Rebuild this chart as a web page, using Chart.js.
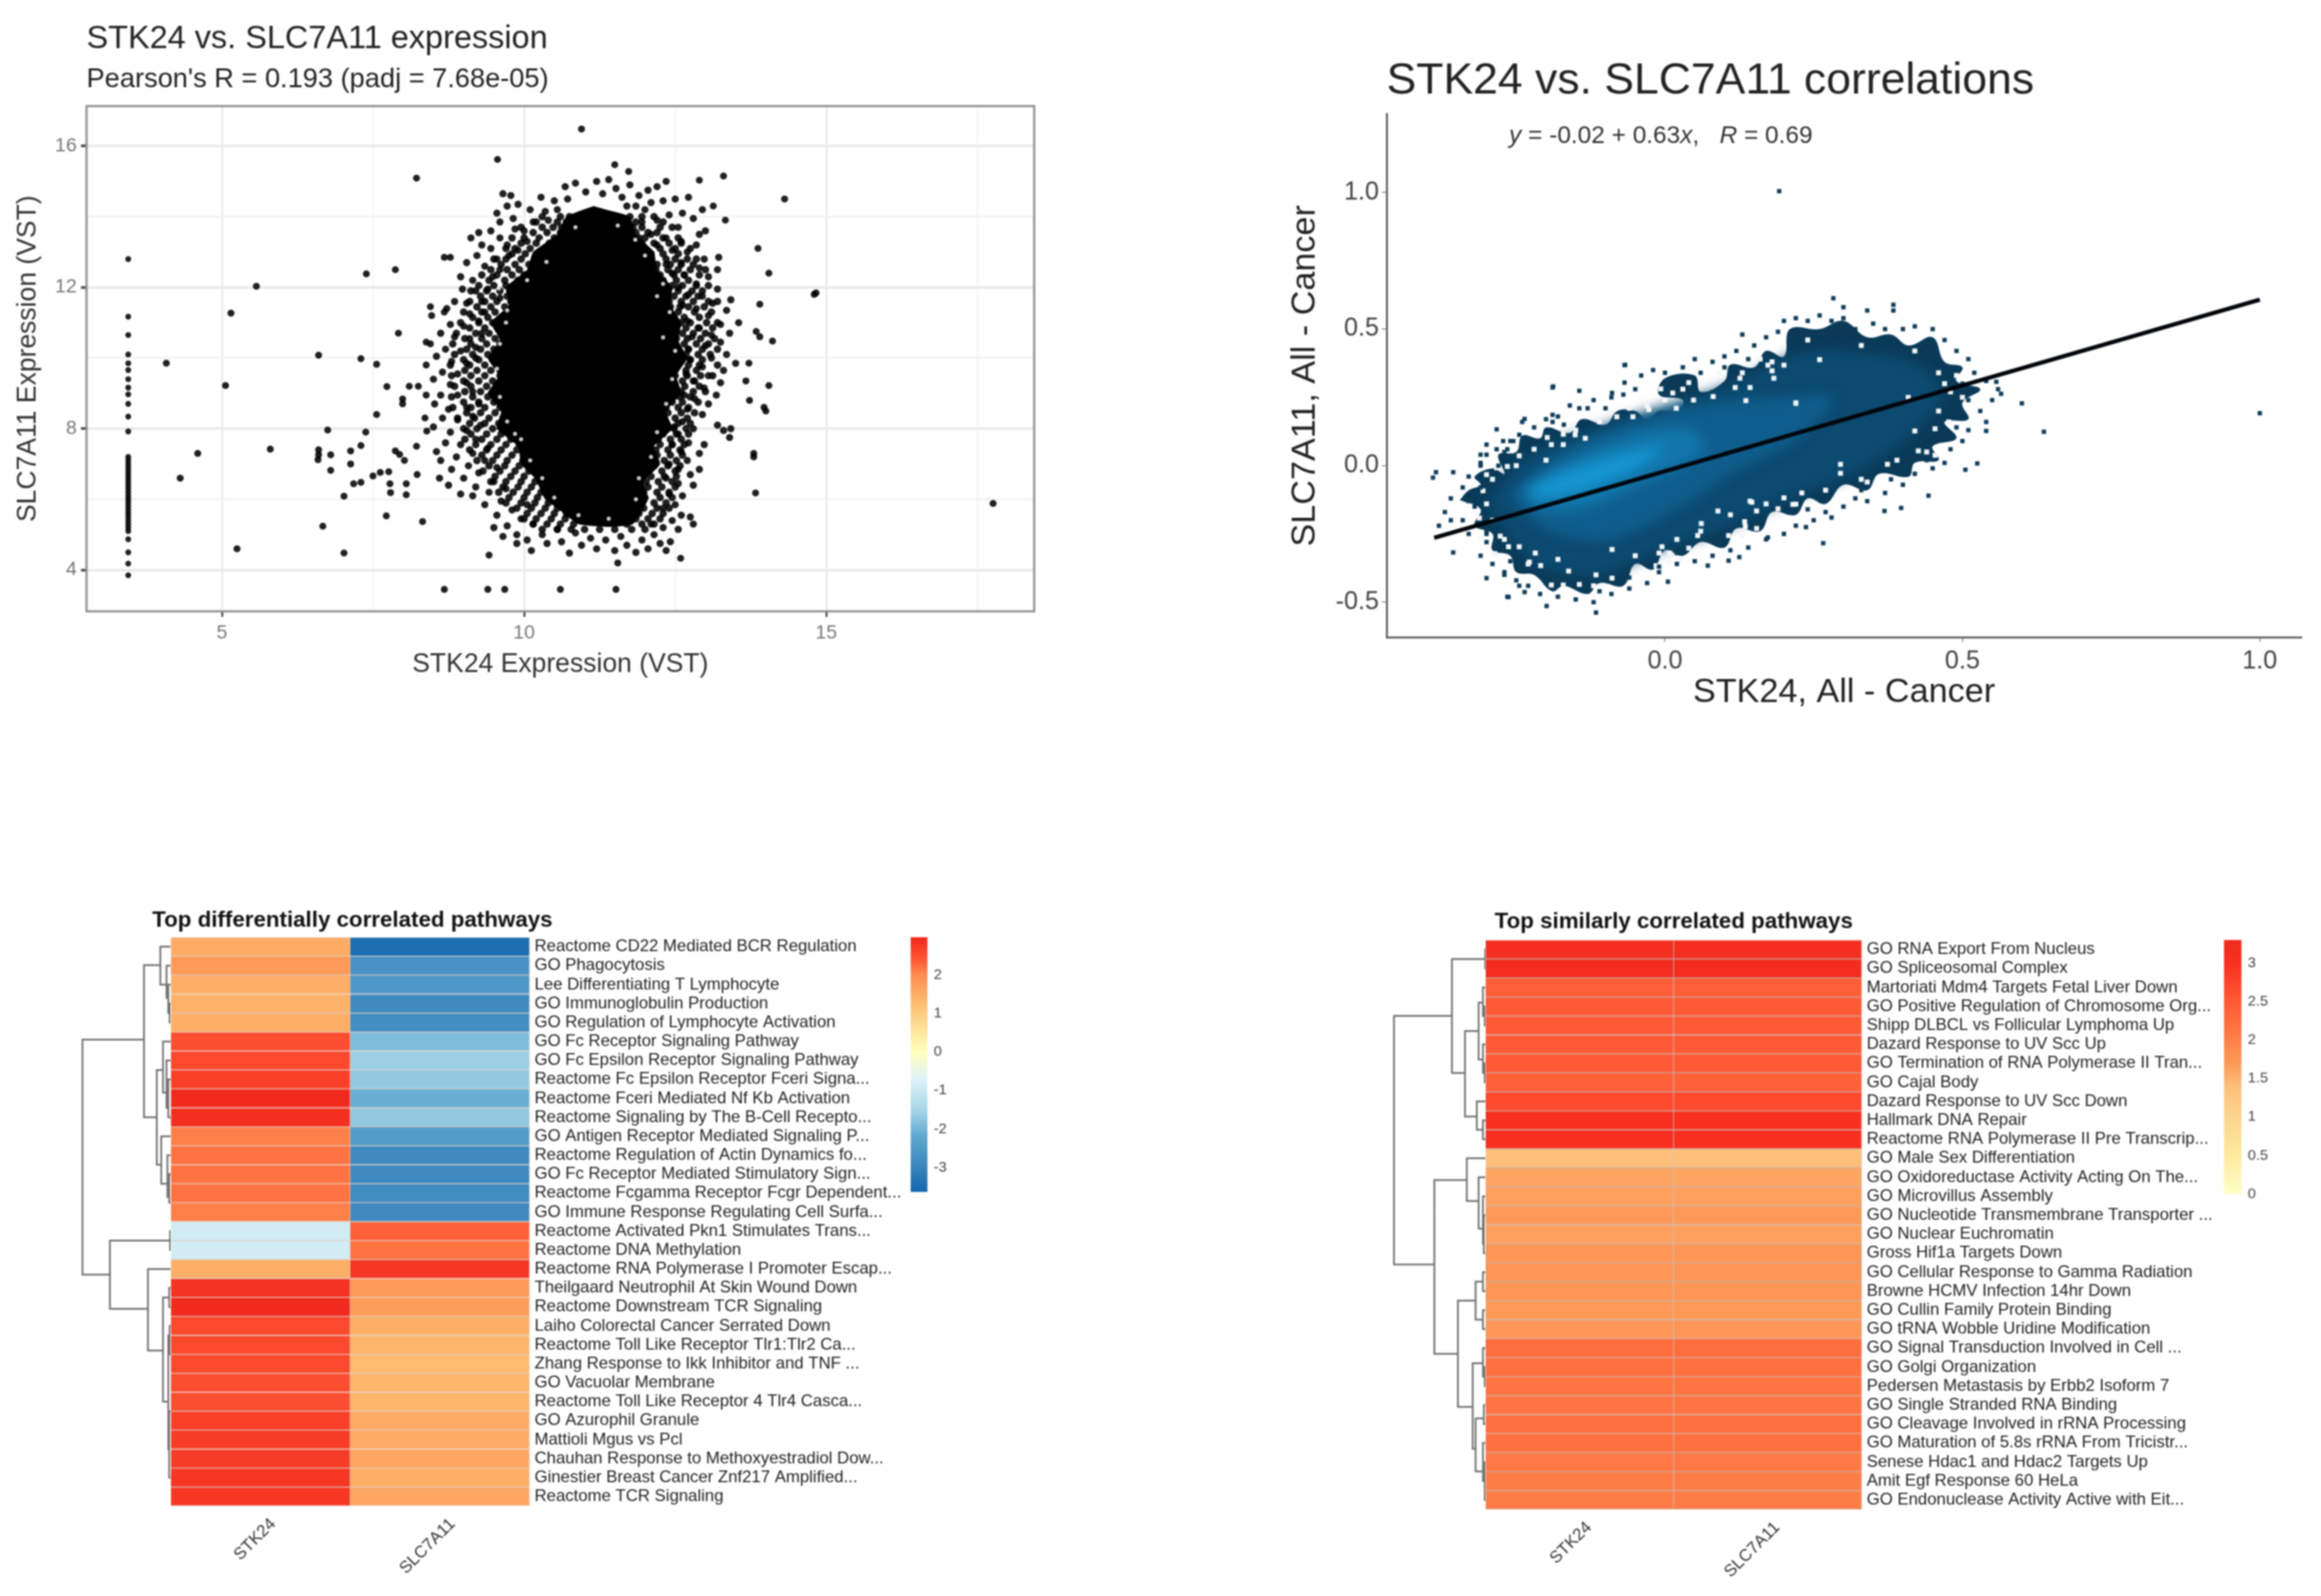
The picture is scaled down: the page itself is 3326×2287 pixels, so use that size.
<!DOCTYPE html>
<html>
<head>
<meta charset="utf-8">
<title>STK24 vs. SLC7A11</title>
<script src="https://cdn.jsdelivr.net/npm/chart.js@4"></script>
<style>
html,body{margin:0;padding:0;background:#fff;}
body{position:relative;width:3326px;height:2287px;overflow:hidden;}
canvas{position:absolute;filter:blur(0.9px);}
</style>
</head>
<body>
<canvas id="exprChart" style="left:0;top:20px" width="1500" height="955"></canvas>
<canvas id="corrChart" style="left:1800px;top:60px" width="1510" height="964"></canvas>
<canvas id="diffDendro" style="left:115px;top:1343px" width="130" height="815"></canvas>
<canvas id="diffHeat" style="left:218px;top:1300px" width="1082" height="975"></canvas>
<canvas id="diffScale" style="left:1305px;top:1343px" width="70" height="377"></canvas>
<canvas id="simDendro" style="left:1995px;top:1347px" width="134" height="816"></canvas>
<canvas id="simHeat" style="left:2129px;top:1302px" width="1051" height="978"></canvas>
<canvas id="simScale" style="left:3187px;top:1347px" width="70" height="376"></canvas>
<script>
/* ==========================================
   EXPRESSION SCATTER DATA
========================================== */

const exprStripX = 3.45;

const exprStripY = [12.8,11.17,10.65,10.1,9.85,9.66,9.4,9.16,8.97,8.7,8.34,7.92,7.2,7.1,7.0,6.9,6.8,6.7,6.6,6.5,6.4,6.3,6.2,6.1,6.0,5.9,5.8,5.7,5.6,5.5,5.4,5.3,5.2,5.1,4.87,4.5,4.18,3.85];

const exprOutliers = [
    [4.08,9.85],[5.06,9.22],[5.15,11.27],[5.57,12.03],[4.6,7.3],[4.31,6.6],[5.25,4.6],[5.8,7.42],[6.6,10.08],[6.6,7.4],[6.6,7.26],[6.59,7.12],
    [6.75,7.96],[6.8,7.26],[6.8,6.82],[6.67,5.24],[7.02,6.09],[7.02,4.48],[7.13,7.37],[7.13,7.0],[7.3,7.52],[7.3,9.98],[7.39,12.38],[7.38,7.9],
    [7.18,6.44],[7.3,6.48],[7.5,6.66],[7.56,8.4],[7.56,9.82],[7.62,6.76],[7.76,6.78],[7.73,9.19],[7.72,5.53],[7.87,12.5],[7.92,10.7],[7.87,7.37],
    [7.94,7.27],[8.02,7.1],[7.99,8.84],[7.99,8.7],[7.78,6.44],[7.79,6.19],[8.05,6.44],[8.05,6.13],[8.22,15.09],[8.1,9.2],[8.25,9.2],[8.23,6.7],[8.22,7.5],
    [8.32,5.37],[8.38,10.45],[8.45,10.4],[8.38,9.8],[8.38,8.95],[8.39,7.93],[8.36,8.3],[8.45,11.45],[8.47,11.2],[8.68,11.3],[8.68,12.85],[8.78,12.85],
    [8.68,3.45],[9.4,3.45],[9.68,3.45],[10.6,3.45],[11.52,3.45],[9.42,4.42],[9.56,15.62],[10.95,16.48],[11.5,15.47],[11.73,15.28],[13.3,15.15],[14.31,14.5],
    [12.9,15.03],[13.13,14.3],[13.33,13.9],[13.87,13.1],[14.05,12.4],[14.8,11.8],[14.83,11.84],[13.9,11.52],[14.11,10.48],[13.84,10.75],[13.9,10.6],
    [14.05,9.22],[13.72,9.85],[13.97,8.6],[14.0,8.5],[13.67,9.35],[13.73,8.8],[13.8,7.3],[13.8,7.2],[13.83,6.18],[17.76,5.88],[12.59,4.33],[11.55,4.2]
];

const exprHalo = [
    [9.65,14.65],[9.78,14.6],[9.72,14.3],[9.55,14.1],[9.9,14.35],[9.82,13.95],[10.1,14.2],[10.28,14.55],[10.35,14.15],[10.5,14.45],[10.68,14.85],[10.72,14.5],
    [10.85,14.95],[11.02,14.7],[11.2,15.0],[11.3,14.65],[11.4,15.05],[11.52,14.8],[11.62,14.55],[11.75,14.9],[11.9,14.6],[12.05,14.75],[12.2,14.85],[12.35,15.0],
    [12.1,14.4],[12.3,14.45],[12.5,14.5],[12.72,14.55],[12.62,14.1],[12.4,14.05],[12.8,13.95],[12.95,14.2],[13.0,13.6],[12.55,13.7],[12.2,13.9],[12.0,14.2],
    [11.85,14.3],[11.7,14.3],[10.55,14.2],[10.4,13.9],[10.15,13.85],[10,13.6],[9.85,13.65],[9.6,13.85],[9.45,13.6],[9.6,13.4],[9.25,13.55],[9.12,13.4],
    [9.3,13.2],[9.45,13.1],[9.72,13.2],[9.9,13.05],[10.05,13.3],[9.75,12.9],[9.55,12.8],[9.22,12.9],[9.05,12.7],[9.35,12.6],[9.6,12.5],[9.48,12.3],[9.15,12.2],[8.95,12.3],
    [8.98,11.95],[9.2,11.9],[9.4,11.95],[9.6,11.7],[9.3,11.6],[9.05,11.55],[8.85,11.6],[8.72,11.4],[9.1,11.25],[9.35,11.3],[9.25,11.05],[9.0,10.9],[8.78,10.95],[8.62,10.7],
    [8.85,10.6],[9.1,10.55],[9.3,10.7],[9.2,10.3],[8.95,10.2],[8.7,10.25],[8.55,10.05],[8.8,9.9],[9.05,9.85],[9.2,10.0],[8.9,9.55],[8.65,9.6],[8.5,9.4],[8.78,9.25],
    [9.05,9.3],[9.15,9.05],[8.9,8.95],[8.62,8.95],[8.52,8.7],[8.75,8.55],[9.05,8.6],[9.25,8.7],[9.15,8.35],[8.9,8.25],[8.65,8.3],[8.5,8.05],[8.78,7.9],[9.05,7.95],[9.28,8.1],
    [9.2,7.7],[8.95,7.55],[8.7,7.6],[8.55,7.35],[8.62,7.1],[8.88,7.2],[9.15,7.3],[9.4,7.45],[9.35,7.1],[9.08,6.95],[8.8,6.85],[8.6,6.6],[8.75,6.4],[9.0,6.6],[9.25,6.75],
    [9.55,6.9],[9.5,6.5],[9.2,6.35],[8.95,6.15],[9.15,6.1],[9.42,6.2],[9.7,6.3],[9.62,5.95],[9.35,5.85],[9.55,5.55],[9.8,5.7],[10.05,5.85],[9.95,5.45],[9.72,5.25],[9.5,5.2],
    [9.65,4.95],[9.88,5.0],[10.15,5.3],[10.05,4.85],[9.88,4.75],[10.12,4.55],[10.3,5.0],[10.38,4.75],[10.55,5.15],[10.62,4.8],[10.75,4.48],[10.85,5.05],[10.95,4.7],[11.1,4.9],
    [11.2,4.6],[11.35,4.85],[11.5,4.55],[11.6,4.95],[11.7,4.7],[11.85,4.5],[11.95,4.85],[12.05,4.6],[12.15,5.0],[12.25,4.75],[12.35,4.55],[12.42,4.8],[12.3,5.2],[12.1,5.3],
    [12.45,5.4],[12.6,5.55],[12.55,5.15],[12.75,5.5],[12.8,5.3],[12.3,5.75],[12.5,5.85],[12.4,6.15],[12.62,6.1],[12.8,6.4],[12.55,6.45],[12.35,6.6],[12.75,6.7],[12.9,6.85],
    [12.55,6.85],[12.4,7.0],[12.7,7.1],[12.9,7.3],[12.6,7.35],[12.45,7.55],[12.72,7.6],[12.98,7.55],[12.55,7.85],[12.8,8.0],[12.62,8.2],[12.48,8.05],[12.95,8.4],[13.2,8.1],[13.3,7.95],
    [13.42,8.0],[13.4,7.75],[12.7,8.55],[13.05,8.7],[12.82,8.85],[13.18,8.95],[12.65,8.95],[12.98,9.15],[13.25,9.3],[12.8,9.35],[12.68,9.55],[13.05,9.5],[13.3,9.65],[13.5,9.85],[12.95,9.75],
    [12.75,9.95],[13.1,10.0],[13.35,10.1],[12.72,10.25],[13.0,10.35],[13.25,10.45],[13.1,10.65],[12.78,10.6],[13.4,10.7],[12.9,10.85],[13.25,10.95],[13.55,11.0],[12.7,11.05],
    [13.05,11.2],[13.35,11.35],[12.85,11.4],[12.62,11.5],[13.12,11.55],[13.42,11.65],[12.95,11.75],[12.72,11.8],[13.2,11.95],[12.55,12.0],[12.85,12.1],[13.05,12.3],[12.65,12.35],[12.45,12.4],
    [13.2,12.5],[12.9,12.55],[12.6,12.7],[12.35,12.65],[12.98,12.8],[13.22,12.85],[12.7,13.0],[12.45,13.05],[12.85,13.2],[12.2,13.2],[12.6,13.3],[12.35,13.4],[12.1,13.5],[12.9,13.5],[11.95,13.85]
];

/* crowded band next to the solid core: y first, then the x values on that row */
const exprCrowdedRows = [
    [14.0,10.3,10.6,10.75,11.75,11.95,12.15],
    [13.85,10.2,10.55,10.7,11.7,11.85,12.3],
    [13.7,9.95,10.3,10.48,10.62,11.8,11.95,12.25,12.45],
    [13.55,10.15,10.38,10.6,11.85,12.05,12.2],
    [13.4,9.8,10.0,10.25,10.5,11.9,12.0,12.3,12.55],
    [13.25,9.95,10.2,10.42,11.95,12.15,12.4,12.6],
    [13.1,9.7,9.85,10.1,10.35,12.0,12.25,12.5,12.75],
    [12.95,9.8,10.02,10.28,12.1,12.3,12.55],
    [12.8,9.5,9.7,9.95,10.2,10.35,12.1,12.35,12.5,12.7,12.85],
    [12.65,9.62,9.85,10.08,10.3,12.2,12.42,12.6,12.8],
    [12.5,9.45,9.72,9.92,10.15,12.18,12.38,12.55,12.75,13.0],
    [12.35,9.3,9.55,9.8,10.0,10.18,12.25,12.48,12.65,12.9],
    [12.2,9.42,9.68,9.9,10.05,12.3,12.52,12.72],
    [12.05,9.25,9.5,9.7,9.95,12.28,12.45,12.62,12.85,13.05],
    [11.9,9.12,9.38,9.6,9.82,10.02,12.35,12.55,12.78,12.95],
    [11.75,9.28,9.48,9.72,9.92,12.3,12.48,12.68,12.88],
    [11.6,9.1,9.35,9.55,9.78,9.95,12.4,12.6,12.8,13.05,13.2],
    [11.45,9.22,9.45,9.68,9.88,12.42,12.58,12.72,12.98],
    [11.3,9.0,9.3,9.52,9.75,9.9,12.38,12.55,12.82,13.1],
    [11.15,9.15,9.4,9.62,9.82,12.45,12.65,12.9],
    [11.0,8.95,9.25,9.48,9.7,9.88,12.42,12.6,12.75,13.02,13.2],
    [10.85,9.1,9.35,9.58,9.78,12.5,12.68,12.88,13.12],
    [10.7,8.88,9.2,9.42,9.65,9.85,12.48,12.62,12.8,13.0],
    [10.55,9.02,9.3,9.52,9.72,12.52,12.7,12.92,13.15],
    [10.4,8.82,9.12,9.38,9.6,9.82,12.5,12.65,12.85,13.05],
    [10.25,9.05,9.28,9.5,9.72,12.55,12.72,12.95,13.2],
    [10.1,8.85,9.15,9.4,9.62,9.82,12.52,12.68,12.88,13.08],
    [9.95,9.0,9.25,9.48,9.7,12.5,12.75,12.95],
    [9.8,8.78,9.1,9.35,9.58,9.8,12.55,12.72,12.9,13.2],
    [9.65,9.02,9.22,9.45,9.68,12.48,12.68,12.85],
    [9.5,8.8,9.12,9.35,9.6,9.82,12.5,12.7,12.92,13.12],
    [9.35,9.0,9.25,9.48,9.7,12.45,12.62,12.82],
    [9.2,8.85,9.12,9.38,9.6,9.8,12.48,12.66,12.9],
    [9.05,9.02,9.28,9.5,9.72,12.42,12.6,12.8,13.0],
    [8.9,8.8,9.15,9.4,9.62,9.82,12.4,12.58,12.75],
    [8.75,9.0,9.25,9.5,9.72,12.45,12.62,12.88],
    [8.6,8.82,9.12,9.35,9.6,9.85,12.35,12.55,12.72],
    [8.45,9.05,9.28,9.52,9.75,12.38,12.6,12.82],
    [8.3,8.9,9.18,9.42,9.65,9.88,12.3,12.5,12.7],
    [8.15,9.1,9.35,9.58,9.8,12.35,12.55,12.75],
    [8.0,9.0,9.22,9.48,9.72,9.92,12.28,12.48,12.68],
    [7.85,9.12,9.38,9.62,9.85,12.3,12.52,12.72],
    [7.7,9.02,9.3,9.55,9.78,10.0,12.22,12.42,12.6],
    [7.55,9.2,9.45,9.7,9.92,12.25,12.45,12.65],
    [7.4,9.1,9.38,9.62,9.88,10.08,12.18,12.38,12.58],
    [7.25,9.3,9.55,9.8,10.02,12.2,12.42,12.62],
    [7.1,9.22,9.48,9.72,9.98,10.18,12.12,12.32,12.52],
    [6.95,9.42,9.68,9.92,10.12,12.15,12.38,12.58],
    [6.8,9.32,9.6,9.85,10.08,10.28,12.05,12.28,12.5],
    [6.65,9.52,9.78,10.0,10.22,12.1,12.32,12.52],
    [6.5,9.45,9.7,9.95,10.18,10.38,12.02,12.22,12.45],
    [6.35,9.65,9.9,10.12,10.32,12.05,12.28,12.5],
    [6.2,9.58,9.82,10.05,10.28,10.48,11.98,12.2,12.4],
    [6.05,9.75,10.0,10.22,10.42,12.0,12.25,12.45],
    [5.9,9.7,9.95,10.18,10.4,10.6,11.95,12.15,12.35],
    [5.75,9.88,10.12,10.35,10.55,11.98,12.2,12.4],
    [5.6,10.05,10.28,10.5,10.7,11.9,12.12,12.3],
    [5.45,10.0,10.2,10.45,10.68,10.9,11.85,12.05,12.25],
    [5.3,10.15,10.38,10.6,10.82,11.7,11.95,12.15],
    [5.15,10.3,10.55,10.78,11.0,11.25,11.5,11.78,12.0]
];

const exprDenseOutline = [
    [11.15,14.3],[11.35,14.2],[11.75,14.0],[11.85,13.5],[12.15,13.0],[12.2,12.5],[12.45,12.0],[12.42,11.5],[12.6,11.0],[12.55,10.5],[12.7,10.0],[12.52,9.5],[12.6,9.0],[12.35,8.5],[12.45,8.0],
    [12.15,7.5],[12.25,7.0],[11.98,6.5],[12.05,6.0],[11.8,5.3],[11.4,5.22],[10.9,5.3],[10.55,5.75],[10.35,6.0],[10.18,6.6],[9.95,7.0],[9.9,7.5],[9.55,8.0],[9.62,8.5],[9.4,9.0],[9.58,9.5],[9.4,10.0],
    [9.6,10.5],[9.45,11.0],[9.75,11.5],[9.7,12.0],[10.05,12.5],[10.15,13.0],[10.55,13.5],[10.7,14.0],[11.15,14.3]
];

/* white flecks left inside the crowded part of the cloud */
const exprGaps = [
    [10.37,12.72],[11.84,13.35],[12.41,11.3],[12.3,10.58],[9.58,11.97],[9.72,11.35],[10.05,12.2],[10.3,13.3],[11.55,13.75],[12.0,12.9],[12.3,12.1],[12.5,10.2],[12.45,9.4],[12.35,8.7],[12.2,7.9],
    [12.1,7.2],[11.9,6.6],[11.85,6.0],[11.4,5.45],[10.9,5.55],[10.5,6.05],[10.3,6.6],[10.1,7.1],[9.95,7.7],[9.72,8.2],[9.6,8.9],[9.55,9.7],[9.6,10.4],[9.7,11.0],[10.85,13.7],[12.2,11.75],[9.85,7.85]
];

const exprXTicks = [5,10,15];
const exprYTicks = [4,8,12,16];

/* ==========================================
   CORRELATION SCATTER DATA
========================================== */

const corrBinsOutline = [
    [-.345,-.126],[-.33,-.09],[-.31,-.07],[-.32,-.04],[-.29,-.01],[-.27,-.03],[-.28,.04],[-.25,.05],[-.24,.11],[-.21,.1],[-.2,.14],[-.16,.12],[-.14,.17],[-.1,.15],[-.08,.2],[-.05,.2],[-.03,.17],
    [-.01,.2],[.02,.2],[.03,.24],[-.01,.26],[.0,.32],[.05,.33],[.06,.27],[.1,.31],[.11,.37],[.15,.36],[.17,.42],[.2,.4],[.21,.5],[.26,.5],[.3,.53],[.34,.47],[.38,.48],[.41,.44],[.45,.47],[.47,.38],
    [.5,.36],[.49,.31],[.53,.28],[.5,.23],[.51,.17],[.47,.16],[.49,.1],[.45,.07],[.46,.02],[.42,.01],[.41,-.04],[.36,-.03],[.34,-.09],[.3,-.07],[.27,-.14],[.24,-.12],[.22,-.18],[.18,-.17],[.16,-.24],
    [.12,-.23],[.1,-.3],[.06,-.28],[.03,-.33],[.0,-.31],[-.02,-.38],[-.05,-.36],[-.07,-.44],[-.11,-.43],[-.13,-.47],[-.17,-.44],[-.19,-.46],[-.22,-.4],[-.25,-.39],[-.26,-.33],[-.29,-.31],[-.29,-.25],
    [-.32,-.22],[-.31,-.16],[-.345,-.126]
];

const corrDensity1 = [
    [-.299,-.126],[-.231,.038],[-.116,.135],[-.002,.217],[.112,.299],[.226,.413],[.34,.413],[.432,.364],[.466,.25],[.409,.103],[.317,-.028],[.203,-.126],[.089,-.24],[-.002,-.305],
    [-.116,-.403],[-.208,-.37],[-.265,-.256],[-.299,-.126]
];

const corrDensity2 = [
    [-.265,-.109],[-.185,.038],[-.048,.168],[.089,.233],[.203,.25],[.283,.25],[.226,.103],[.112,-.028],[.021,-.158],[-.094,-.272],[-.196,-.24],[-.265,-.109]
];

const corrDensity3 = [
    [-.242,-.093],[-.162,.021],[-.048,.119],[.043,.135],[.066,.054],[-.048,-.077],[-.139,-.158],[-.219,-.158],[-.242,-.093]
];

const corrDensity4 = [
    [-.231,-.085],[-.174,-.028],[-.082,.038],[-.002,.07],[-.048,-.011],[-.139,-.093],[-.208,-.117],[-.231,-.085]
];

const corrFringe = [
    [-.36,-.12],[-.37,-.17],[-.34,-.08],[-.33,-.04],[-.31,.0],[-.3,.04],[-.27,.05],[-.26,.09],[-.24,.16],[-.22,.14],[-.2,.17],[-.18,.18],[-.16,.22],[-.13,.21],[-.12,.24],[-.09,.25],
    [-.07,.26],[-.05,.28],[-.04,.33],[-.02,.35],[.0,.34],[.03,.36],[.05,.39],[.06,.34],[.08,.38],[.1,.4],[.12,.42],[.13,.48],[.15,.44],[.17,.47],[.19,.49],[.2,.53],[.22,.54],[.24,.53],
    [.26,.55],[.28,.53],[.3,.54],[.32,.5],[.35,.52],[.37,.5],[.4,.5],[.42,.51],[.45,.5],[.47,.46],[.49,.42],[.51,.39],[.52,.34],[.54,.31],[.56,.28],[.55,.24],[.53,.2],[.54,.16],[.51,.13],
    [.5,.09],[.48,.06],[.47,.01],[.45,-.01],[.42,-.03],[.4,-.07],[.37,-.1],[.34,-.13],[.32,-.12],[.3,-.15],[.27,-.17],[.25,-.2],[.22,-.22],[.2,-.25],[.17,-.27],[.14,-.3],[.11,-.31],
    [.08,-.33],[.05,-.35],[.02,-.36],[-.01,-.39],[-.03,-.43],[-.06,-.45],[-.09,-.47],[-.12,-.5],[-.15,-.49],[-.18,-.48],[-.21,-.47],[-.23,-.44],[-.25,-.42],[-.27,-.39],[-.29,-.36],
    [-.31,-.33],[-.3,-.28],[-.33,-.25],[-.34,-.2],[-.36,-.2],[-.38,-.22],[.192,1.005],[1.0,.192],[.637,.124],[.6,.228],[.283,.613],[.34,.568],[.384,.589],[.384,.568],[-.116,-.538],
    [-.199,-.514],[-.39,-.044],[-.385,-.024],[-.356,-.024],[-.356,-.318],[-.263,-.481],[.266,-.284],[.525,.008],[.505,-.015],[.443,-.11],[.397,-.155],[.369,-.166],[.565,.263],[.54,.127],
    [.557,.307],[-.067,.369],[-.188,.29],[.47,.28],[.44,.42],[.3,.58],[.12,.36],[.28,-.19],[-.01,-.37],[-.33,-.13],[-.3,-.24],
    [-.189,.286],[-.144,.274],[-.068,.368],[-.068,.304],[-.089,.266],[-.144,.21],[-.189,.186],[-.189,.16],[-.236,.171],[-.283,.133],[-.245,.113],[-.3,.077],[-.272,.09],[-.255,.09],[-.283,.06],
    [-.265,.06],[-.31,.04],[-.31,.01],[.005,-.425],[.072,-.366],[.107,-.348],[.125,-.335],[.173,-.263],[.237,-.225],[-.236,-.463],[-.265,-.48],[-.3,-.412],[-.27,-.4],[-.245,-.44],
    [.02,.31],[.0,.3],[.1,.36],[.14,.39],[.21,.47],[.3,.49],[.38,.47],[.43,.44],[.5,.3],[.51,.24],[.49,.14],[.44,.02],[.38,-.05],[.33,-.09],[.24,-.16],[.16,-.21],[.09,-.28],[.02,-.32],[-.06,-.41],
    [-.11,-.46],[-.2,-.43],[-.26,-.35],[-.3,-.25],[-.32,-.15],[-.31,-.08],[-.28,.0],[-.23,.1],[-.17,.15],[-.1,.21]
];

const corrEmptyBins = [
    [-.081,.179],[-.054,.179],[-.027,.205],[.019,.21],[.048,.24],[.04,.304],[.013,.266],[-.007,.281],[.081,.253],[.118,.286],[.143,.286],[.126,.32],[.136,.238],[.22,.23],[.183,.32],[.173,.368],
    [.143,.368],[.2,.368],[-.156,.151],[-.171,.115],[-.151,.113],[-.134,.1],[-.191,.077],[-.171,.077],[-.198,.103],[-.2,.02],[-.245,.036],[-.265,-.003],[-.283,-.008],[-.306,-.092],[-.3,-.033],
    [-.312,-.192],[-.277,-.258],[-.309,-.263],[-.245,-.297],[-.263,-.297],[-.286,-.322],[-.218,-.32],[-.228,-.353],[-.209,-.366],[-.18,-.343],[-.162,-.386],[-.171,-.437],[-.191,-.437],[-.144,-.435],
    [-.116,-.4],[-.089,-.412],[-.089,-.307],[-.015,-.366],[.007,-.353],[.025,-.348],[-.005,-.297],[.008,-.32],[.04,-.302],[.061,-.212],[.089,-.166],[.055,-.256],[.107,-.256],[.134,-.205],[.154,-.166],
    [.143,-.13],[.13,-.256],[.2,-.118],[.22,-.141],[.192,-.182],[.154,-.23],[.18,.38],[.18,.347],[.26,.388],[.22,.228],[.409,.25],[.454,.135],[.42,.127],[.477,.16],[.454,.038],[.426,.054],[.295,.005],
    [.295,-.028],[.374,.005],[.34,-.06],[.19,-.158],[.215,-.142],[.146,-.134],[.135,-.223],[.5,.25],[.47,.3],[.49,.33],
    [-.11,.16],[-.06,.21],[-.03,.22],[.0,.24],[.03,.28],[.06,.3],[.09,.34],[.13,.34],[.16,.39],[.24,.46],[.33,.44],[.42,.42],[.46,.34],[.48,.27],[.46,.2],[.44,.05],[.39,.02],[.33,-.05],[.27,-.09],
    [.23,-.1],[.17,-.14],[.11,-.18],[.06,-.24],[.02,-.27],[-.01,-.32],[-.05,-.33],[-.12,-.44],[-.23,-.36],[-.27,-.27],[-.29,-.2],[-.3,-.14],[-.29,-.05],[-.25,.0],[-.22,.06],[-.15,.13]
];

const corrFitX = [-0.388,1.0];
const corrFitY = [-0.264,0.608];

const corrXTicks = [0,0.5,1];
const corrYTicks = [-0.5,0,0.5,1];

/* ==========================================
   HEATMAP DATA
========================================== */

const heatCells = ["STK24","SLC7A11"];

const diffRows = [
    "Reactome CD22 Mediated BCR Regulation","GO Phagocytosis","Lee Differentiating T Lymphocyte","GO Immunoglobulin Production","GO Regulation of Lymphocyte Activation",
    "GO Fc Receptor Signaling Pathway","GO Fc Epsilon Receptor Signaling Pathway","Reactome Fc Epsilon Receptor Fceri Signa...","Reactome Fceri Mediated Nf Kb Activation","Reactome Signaling by The B-Cell Recepto...",
    "GO Antigen Receptor Mediated Signaling P...","Reactome Regulation of Actin Dynamics fo...","GO Fc Receptor Mediated Stimulatory Sign...","Reactome Fcgamma Receptor Fcgr Dependent...","GO Immune Response Regulating Cell Surfa...",
    "Reactome Activated Pkn1 Stimulates Trans...","Reactome DNA Methylation","Reactome RNA Polymerase I Promoter Escap...","Theilgaard Neutrophil At Skin Wound Down","Reactome Downstream TCR Signaling",
    "Laiho Colorectal Cancer Serrated Down","Reactome Toll Like Receptor Tlr1:Tlr2 Ca...","Zhang Response to Ikk Inhibitor and TNF ...","GO Vacuolar Membrane","Reactome Toll Like Receptor 4 Tlr4 Casca...",
    "GO Azurophil Granule","Mattioli Mgus vs Pcl","Chauhan Response to Methoxyestradiol Dow...","Ginestier Breast Cancer Znf217 Amplified...","Reactome TCR Signaling"
];

const diffStk24 = [1.55,1.8,1.5,1.45,1.5,2.55,2.6,2.7,2.95,2.9,2.1,2.2,2.2,2.2,2.1,-0.9,-0.9,1.5,2.85,2.95,2.6,2.6,2.6,2.55,2.55,2.7,2.75,2.75,2.8,2.8];

const diffSlc7a11 = [-3.5,-2.7,-2.6,-2.9,-2.8,-1.9,-1.6,-1.7,-2.1,-1.7,-2.5,-2.9,-2.9,-2.85,-2.9,2.35,2.2,2.8,1.8,1.75,1.5,1.4,1.3,1.4,1.4,1.55,1.55,1.6,1.5,1.6];

const simRows = [
    "GO RNA Export From Nucleus","GO Spliceosomal Complex","Martoriati Mdm4 Targets Fetal Liver Down","GO Positive Regulation of Chromosome Org...","Shipp DLBCL vs Follicular Lymphoma Up",
    "Dazard Response to UV Scc Up","GO Termination of RNA Polymerase II Tran...","GO Cajal Body","Dazard Response to UV Scc Down","Hallmark DNA Repair",
    "Reactome RNA Polymerase II Pre Transcrip...","GO Male Sex Differentiation","GO Oxidoreductase Activity Acting On The...","GO Microvillus Assembly","GO Nucleotide Transmembrane Transporter ...",
    "GO Nuclear Euchromatin","Gross Hif1a Targets Down","GO Cellular Response to Gamma Radiation","Browne HCMV Infection 14hr Down","GO Cullin Family Protein Binding",
    "GO tRNA Wobble Uridine Modification","GO Signal Transduction Involved in Cell ...","GO Golgi Organization","Pedersen Metastasis by Erbb2 Isoform 7","GO Single Stranded RNA Binding",
    "GO Cleavage Involved in rRNA Processing","GO Maturation of 5.8s rRNA From Tricistr...","Senese Hdac1 and Hdac2 Targets Up","Amit Egf Response 60 HeLa","GO Endonuclease Activity Active with Eit..."
];

const simStk24 = [3.1,3.2,2.45,2.5,2.5,2.5,2.5,2.4,2.7,3.0,3.0,1.4,1.6,1.65,1.7,1.65,1.75,1.75,1.75,1.7,1.75,2.25,2.2,2.15,2.15,2.2,2.2,2.1,2.05,2.05];

const simSlc7a11 = [3.1,3.2,2.45,2.5,2.5,2.5,2.5,2.4,2.7,3.0,3.0,1.4,1.6,1.65,1.7,1.65,1.75,1.75,1.75,1.7,1.75,2.25,2.2,2.15,2.15,2.2,2.2,2.1,2.05,2.05];

/* merge height, upper row, lower row, upper child height, lower child height */
const diffMerges = [
    [1,5.4,17.8,.305,.69],[.305,1.47,9.5,.12,.16],[.12,.5,2.5,0,.05],[.05,1.5,3.2,0,.03],[.03,2.5,4,0,.015],[.015,3.5,4.5,0,0],
    [.16,7,12,.09,.11],[.09,5.5,8.2,0,.05],[.05,6.5,9,0,.03],[.03,7.5,9.5,0,0],[.11,10.5,13,0,.04],[.04,11.5,13.7,0,.02],[.02,12.5,14,0,0],
    [.69,16,19.6,.01,.26],[.01,15.5,16.5,0,0],[.26,17.5,21.8,0,.09],[.09,19,24.5,.02,.03],[.02,18.5,19.5,0,0],
    [.03,21,27,.015,.02],[.015,20.5,22,0,0],[.02,25,28.5,0,0]
];

const simMerges = [
    [1,4,17.1,.368,.56],[.368,1,7,.005,.226],[.005,.5,1.5,0,0],[.226,4.8,9.3,.077,.097],[.077,3.3,6.3,.03,.03],[.03,2.5,4,0,.01],[.01,3.5,4.5,0,0],[.03,5.5,7,0,.01],[.01,6.5,7.5,0,0],
    [.097,8.5,10,0,.03],[.03,9.5,10.5,0,0],[.56,12.65,21.8,.206,.303],[.206,11.5,13.75,0,.077],[.077,12.5,15.2,0,.03],[.03,13.5,16,0,.02],[.02,14.5,16.5,0,0],
    [.303,19,24.6,.11,.142],[.11,18,20,.03,.03],[.03,17.5,18.5,0,0],[.03,19.5,20.5,0,0],[.142,22.3,26.8,.03,.11],[.03,21.5,23,0,.01],[.01,22.5,23.5,0,0],
    [.11,25.2,28,.02,.03],[.02,24.5,25.5,0,0],[.03,26.5,28.5,0,.01],[.01,27.5,29.5,0,0]
];

const diffStops = [[-3.64,"#1267ad"],[-3,"#3a85bb"],[-2.2,"#5fa8d0"],[-1.5,"#a6d6e8"],[-0.7,"#e0f3f8"],[0,"#ffffbf"],[0.5,"#fee8a0"],[1.3,"#fdbb70"],[2,"#fd8d50"],[2.4,"#ff5a35"],[3,"#f0261c"]];

const simStops = [[0,"#ffffc8"],[0.5,"#fee9a0"],[1,"#fdd58e"],[1.4,"#fdbf7a"],[1.7,"#fd9a58"],[2.2,"#ff7040"],[2.5,"#ff5a35"],[3,"#f9301f"],[3.3,"#ee2c1e"]];

const FONT = "'Liberation Sans', Arial, sans-serif";

/* ==========================================
   HELPERS
========================================== */

function toPoints(pairs){

    return pairs.map(p=>({x:p[0],y:p[1]}));

}

function rowsToPoints(rows){

    const points=[];

    rows.forEach(row=>{

        row.slice(1).forEach(x=>points.push({x,y:row[0]}));

    });

    return points;

}

function hexToRgb(hex){

    return [1,3,5].map(i=>parseInt(hex.slice(i,i+2),16));

}

function colorAt(value,stops){

    if(value<=stops[0][0]) return stops[0][1];

    for(let i=1;i<stops.length;i++){

        if(value<=stops[i][0]){

            const t=(value-stops[i-1][0])/(stops[i][0]-stops[i-1][0]);

            const a=hexToRgb(stops[i-1][1]);

            const b=hexToRgb(stops[i][1]);

            return "rgb("+a.map((c,k)=>Math.round(c+(b[k]-c)*t)).join(",")+")";

        }

    }

    return stops[stops.length-1][1];

}

function shapeDataset(pairs,color,order,filterAfter,tension=0.3){

    return{

        data:toPoints(pairs),

        showLine:true,

        fill:"shape",

        tension,

        borderWidth:0,

        backgroundColor:color,

        pointRadius:0,

        order,

        filterAfter

    };

}

/* ctx.filter stays on between datasets, so the density layers come out soft */
const layerFilter={

    id:"layerFilter",

    afterDatasetDraw(chart,args){

        const next=chart.data.datasets[args.index].filterAfter;

        if(next) chart.ctx.filter=next;

    }

};

const panelBorder={

    id:"panelBorder",

    afterDatasetsDraw(chart){

        const {ctx,chartArea:a}=chart;

        ctx.save();

        ctx.strokeStyle="#8c8c8c";

        ctx.lineWidth=3;

        ctx.strokeRect(a.left,a.top,a.width,a.height);

        ctx.restore();

    }

};

const fitEquation={

    id:"fitEquation",

    afterDraw(chart){

        const {ctx,scales}=chart;

        const parts=[["y",1],[" = -0.02 + 0.63",0],["x",1],[",   ",0],["R",1],[" = 0.69",0]];

        let x=scales.x.getPixelForValue(-0.262);

        const y=scales.y.getPixelForValue(1.207);

        ctx.save();

        ctx.fillStyle="#333";

        ctx.textBaseline="middle";

        parts.forEach(p=>{

            ctx.font=(p[1]?"italic ":"")+"35px "+FONT;

            ctx.fillText(p[0],x,y);

            x+=ctx.measureText(p[0]).width;

        });

        ctx.restore();

    }

};

/* ==========================================
   EXPRESSION SCATTER
========================================== */

function renderExpressionChart(){

    const isMajor=(list,v)=>list.includes(v);

    const dots=(data,pointRadius)=>({

        data,

        backgroundColor:"rgba(0,0,0,0.88)",

        pointRadius,

        borderWidth:0

    });

    new Chart(document.getElementById("exprChart"),{

        type:"scatter",

        data:{

            datasets:[

                {

                    data:toPoints(exprGaps),

                    backgroundColor:"rgba(255,255,255,0.8)",

                    pointRadius:3,

                    borderWidth:0

                },

                dots(exprStripY.map(y=>({x:exprStripX,y})),4.2),

                dots(toPoints(exprOutliers),5),

                dots(toPoints(exprHalo),5.2),

                dots(rowsToPoints(exprCrowdedRows),5.4),

                shapeDataset(exprDenseOutline,"#000",5,undefined,0.15)

            ]

        },

        options:{

            responsive:false,

            animation:false,

            events:[],

            layout:{autoPadding:false,padding:{right:18}},

            plugins:{

                legend:{display:false},

                tooltip:{enabled:false},

                title:{

                    display:true,

                    text:"STK24 vs. SLC7A11 expression",

                    align:"start",

                    fullSize:false,

                    color:"#222",

                    font:{family:FONT,size:46.5,weight:"normal"},

                    padding:{top:8.5,bottom:0}

                },

                subtitle:{

                    display:true,

                    text:"Pearson's R = 0.193 (padj = 7.68e-05)",

                    align:"start",

                    fullSize:false,

                    color:"#222",

                    font:{family:FONT,size:39,weight:"normal"},

                    padding:{top:6.3,bottom:14.6}

                }

            },

            scales:{

                x:{

                    type:"linear",

                    min:2.76,

                    max:18.44,

                    afterFit(scale){scale.height=99;},

                    afterBuildTicks(scale){

                        scale.ticks=[5,7.5,10,12.5,15,17.5].map(value=>({value}));

                    },

                    grid:{

                        color:c=>isMajor(exprXTicks,c.tick.value)?"#ebebeb":"#f3f3f3",

                        lineWidth:c=>isMajor(exprXTicks,c.tick.value)?3:2,

                        tickColor:c=>isMajor(exprXTicks,c.tick.value)?"#555":"transparent",

                        tickLength:8

                    },

                    border:{display:false},

                    ticks:{

                        autoSkip:false,

                        maxRotation:0,

                        padding:6,

                        color:"#777",

                        font:{family:FONT,size:28},

                        callback:v=>isMajor(exprXTicks,v)?v:""

                    },

                    title:{

                        display:true,

                        text:"STK24 Expression (VST)",

                        color:"#333",

                        font:{family:FONT,size:38},

                        padding:{top:0,bottom:0}

                    }

                },

                y:{

                    type:"linear",

                    min:2.83,

                    max:17.13,

                    afterFit(scale){scale.width=124;},

                    afterBuildTicks(scale){

                        scale.ticks=[4,6,8,10,12,14,16].map(value=>({value}));

                    },

                    grid:{

                        color:c=>isMajor(exprYTicks,c.tick.value)?"#ebebeb":"#f3f3f3",

                        lineWidth:c=>isMajor(exprYTicks,c.tick.value)?4:3,

                        tickColor:c=>isMajor(exprYTicks,c.tick.value)?"#555":"transparent",

                        tickLength:8

                    },

                    border:{display:false},

                    ticks:{

                        autoSkip:false,

                        padding:6,

                        color:"#777",

                        font:{family:FONT,size:28},

                        callback:v=>isMajor(exprYTicks,v)?v:""

                    },

                    title:{

                        display:true,

                        text:"SLC7A11 Expression (VST)",

                        color:"#333",

                        font:{family:FONT,size:38},

                        padding:{top:18,bottom:0}

                    }

                }

            }

        },

        plugins:[panelBorder]

    });

}

/* ==========================================
   CORRELATION SCATTER
========================================== */

function renderCorrelationChart(){

    new Chart(document.getElementById("corrChart"),{

        type:"scatter",

        data:{

            datasets:[

                {

                    data:corrFitX.map((x,i)=>({x,y:corrFitY[i]})),

                    showLine:true,

                    borderColor:"#02060c",

                    borderWidth:6,

                    pointRadius:0,

                    order:1

                },

                {

                    data:toPoints(corrFringe),

                    pointStyle:"rect",

                    pointRadius:4.4,

                    backgroundColor:"#0d3b58",

                    borderWidth:0,

                    order:2

                },

                {

                    data:toPoints(corrEmptyBins),

                    pointStyle:"rect",

                    pointRadius:5,

                    backgroundColor:"#f4f7f9",

                    borderWidth:0,

                    order:3,

                    filterAfter:"none"

                },

                shapeDataset(corrDensity4,"#1495d2",4,"none"),

                shapeDataset(corrDensity3,"#1276aa",5),

                shapeDataset(corrDensity2,"#0f5d8c",6),

                shapeDataset(corrDensity1,"#0c4a70",7),

                shapeDataset(corrBinsOutline,"#0a3a58",8,"blur(9px)",0.4)

            ]

        },

        options:{

            responsive:false,

            animation:false,

            events:[],

            layout:{autoPadding:false,padding:{right:12}},

            plugins:{

                legend:{display:false},

                tooltip:{enabled:false},

                title:{

                    display:true,

                    text:"STK24 vs. SLC7A11 correlations",

                    align:"start",

                    fullSize:false,

                    color:"#222",

                    font:{family:FONT,size:63.8,weight:"normal"},

                    padding:{top:17.7,bottom:9.7}

                }

            },

            scales:{

                x:{

                    type:"linear",

                    min:-0.468,

                    max:1.07,

                    afterFit(scale){scale.height=111;},

                    afterBuildTicks(scale){

                        scale.ticks=corrXTicks.map(value=>({value}));

                    },

                    grid:{drawOnChartArea:false,tickColor:"#555",tickLength:7},

                    border:{color:"#666",width:3},

                    ticks:{

                        maxRotation:0,

                        padding:6,

                        color:"#444",

                        font:{family:FONT,size:36},

                        callback:v=>v.toFixed(1)

                    },

                    title:{

                        display:true,

                        text:"STK24, All - Cancer",

                        color:"#222",

                        font:{family:FONT,size:49},

                        padding:{top:0,bottom:2}

                    }

                },

                y:{

                    type:"linear",

                    min:-0.628,

                    max:1.286,

                    afterFit(scale){scale.width=187;},

                    afterBuildTicks(scale){

                        scale.ticks=corrYTicks.map(value=>({value}));

                    },

                    grid:{drawOnChartArea:false,tickColor:"#555",tickLength:7},

                    border:{color:"#666",width:3},

                    ticks:{

                        padding:4,

                        color:"#444",

                        font:{family:FONT,size:36},

                        callback:v=>v.toFixed(1)

                    },

                    title:{

                        display:true,

                        text:"SLC7A11, All - Cancer",

                        color:"#222",

                        font:{family:FONT,size:49},

                        padding:{top:40.6,bottom:0}

                    }

                }

            }

        },

        plugins:[layerFilter,fitEquation]

    });

}

/* ==========================================
   HEATMAP
========================================== */

function renderHeatmap(id,title,rows,first,second,stops,opts){

    const cell=(label,values)=>({

        label,

        data:rows.map(()=>1),

        backgroundColor:values.map(v=>colorAt(v,stops)),

        borderColor:opts.cellBorder,

        borderWidth:1,

        barPercentage:1,

        categoryPercentage:1,

        stack:"cells"

    });

    const scales={

        x:{

            type:"linear",

            stacked:true,

            min:0,

            max:2,

            afterFit(scale){scale.height=117;},

            afterBuildTicks(scale){

                scale.ticks=opts.labelAt.map(value=>({value}));

            },

            grid:{display:false,drawTicks:false},

            border:{display:false},

            ticks:{

                minRotation:45,

                maxRotation:45,

                padding:12,

                color:"#333",

                font:{family:FONT,size:24},

                callback:(v,i)=>heatCells[i]

            }

        },

        y:{

            type:"category",

            stacked:true,

            position:"right",

            afterFit(scale){scale.width=opts.labelWidth;},

            grid:{display:false,drawTicks:false},

            border:{display:false},

            ticks:{

                autoSkip:false,

                padding:7,

                color:"#222",

                font:{family:FONT,size:24}

            }

        }

    };

    /* empty left axis so the long title can start left of the cells */
    if(opts.gutter){

        scales.gutter={

            type:"linear",

            position:"left",

            afterFit(scale){scale.width=opts.gutter;},

            grid:{display:false},

            border:{display:false},

            ticks:{display:false}

        };

    }

    new Chart(document.getElementById(id),{

        type:"bar",

        data:{

            labels:rows,

            datasets:[cell(heatCells[0],first),cell(heatCells[1],second)]

        },

        options:{

            indexAxis:"y",

            responsive:false,

            animation:false,

            events:[],

            layout:{autoPadding:false},

            plugins:{

                legend:{display:false},

                tooltip:{enabled:false},

                title:{

                    display:true,

                    text:title,

                    align:opts.gutter?"start":"center",

                    fullSize:Boolean(opts.gutter),

                    color:"#111",

                    font:{family:FONT,size:32,weight:"bold"},

                    padding:{top:0,bottom:opts.titleGap}

                }

            },

            scales

        }

    });

}

/* ==========================================
   DENDROGRAM
========================================== */

function renderDendrogram(id,merges,maxHeight){

    const points=[];

    merges.forEach(m=>{

        points.push(

            {x:m[3],y:m[1]},

            {x:m[0],y:m[1]},

            {x:m[0],y:m[2]},

            {x:m[4],y:m[2]},

            {x:null,y:null}

        );

    });

    new Chart(document.getElementById(id),{

        type:"scatter",

        data:{

            datasets:[{

                data:points,

                showLine:true,

                spanGaps:false,

                borderColor:"#6f6f6f",

                borderWidth:2.5,

                pointRadius:0

            }]

        },

        options:{

            responsive:false,

            animation:false,

            events:[],

            layout:{autoPadding:false},

            plugins:{legend:{display:false},tooltip:{enabled:false}},

            scales:{

                x:{type:"linear",display:false,reverse:true,min:0,max:maxHeight},

                y:{type:"linear",display:false,reverse:true,min:0,max:30}

            }

        }

    });

}

/* ==========================================
   COLOUR KEY
========================================== */

function renderColorKey(id,stops,low,high,step,barWidth){

    new Chart(document.getElementById(id),{

        type:"bar",

        data:{

            labels:["key"],

            datasets:[{

                data:[[low,high]],

                barPercentage:1,

                categoryPercentage:1,

                backgroundColor(context){

                    const {ctx,chartArea,scales}=context.chart;

                    if(!chartArea) return stops[0][1];

                    const g=ctx.createLinearGradient(0,chartArea.bottom,0,chartArea.top);

                    stops.forEach(s=>{

                        const t=(scales.y.getPixelForValue(s[0])-chartArea.bottom)/(chartArea.top-chartArea.bottom);

                        g.addColorStop(Math.min(1,Math.max(0,t)),s[1]);

                    });

                    return g;

                }

            }]

        },

        options:{

            responsive:false,

            animation:false,

            events:[],

            layout:{autoPadding:false,padding:{bottom:12}},

            plugins:{legend:{display:false},tooltip:{enabled:false}},

            scales:{

                x:{display:false},

                y:{

                    position:"right",

                    min:low,

                    max:high,

                    afterFit(scale){

                        scale.width=70-barWidth;

                        scale.paddingTop=0;

                        scale.paddingBottom=0;

                    },

                    grid:{display:false,drawTicks:false},

                    border:{display:false},

                    ticks:{

                        stepSize:step,

                        includeBounds:false,

                        padding:9,

                        color:"#444",

                        font:{family:FONT,size:21},

                        callback:v=>String(+v.toFixed(1))

                    }

                }

            }

        }

    });

}

/* ==========================================
   INITIALIZE
========================================== */

renderExpressionChart();

renderCorrelationChart();

renderDendrogram("diffDendro",diffMerges,1.025);

renderHeatmap("diffHeat","Top differentially correlated pathways",diffRows,diffStk24,diffSlc7a11,diffStops,{

    labelWidth:541,

    labelAt:[0.57,1.57],

    gutter:27,

    titleGap:4.6,

    cellBorder:"rgba(175,125,105,0.3)"

});

renderColorKey("diffScale",diffStops,-3.64,2.99,1,24);

renderDendrogram("simDendro",simMerges,1.02);

renderHeatmap("simHeat","Top similarly correlated pathways",simRows,simStk24,simSlc7a11,simStops,{

    labelWidth:512,

    labelAt:[0.55,1.55],

    titleGap:6.6,

    cellBorder:"rgba(150,120,110,0.45)"

});

renderColorKey("simScale",simStops,0,3.3,0.5,25);

</script>
</body>
</html>
